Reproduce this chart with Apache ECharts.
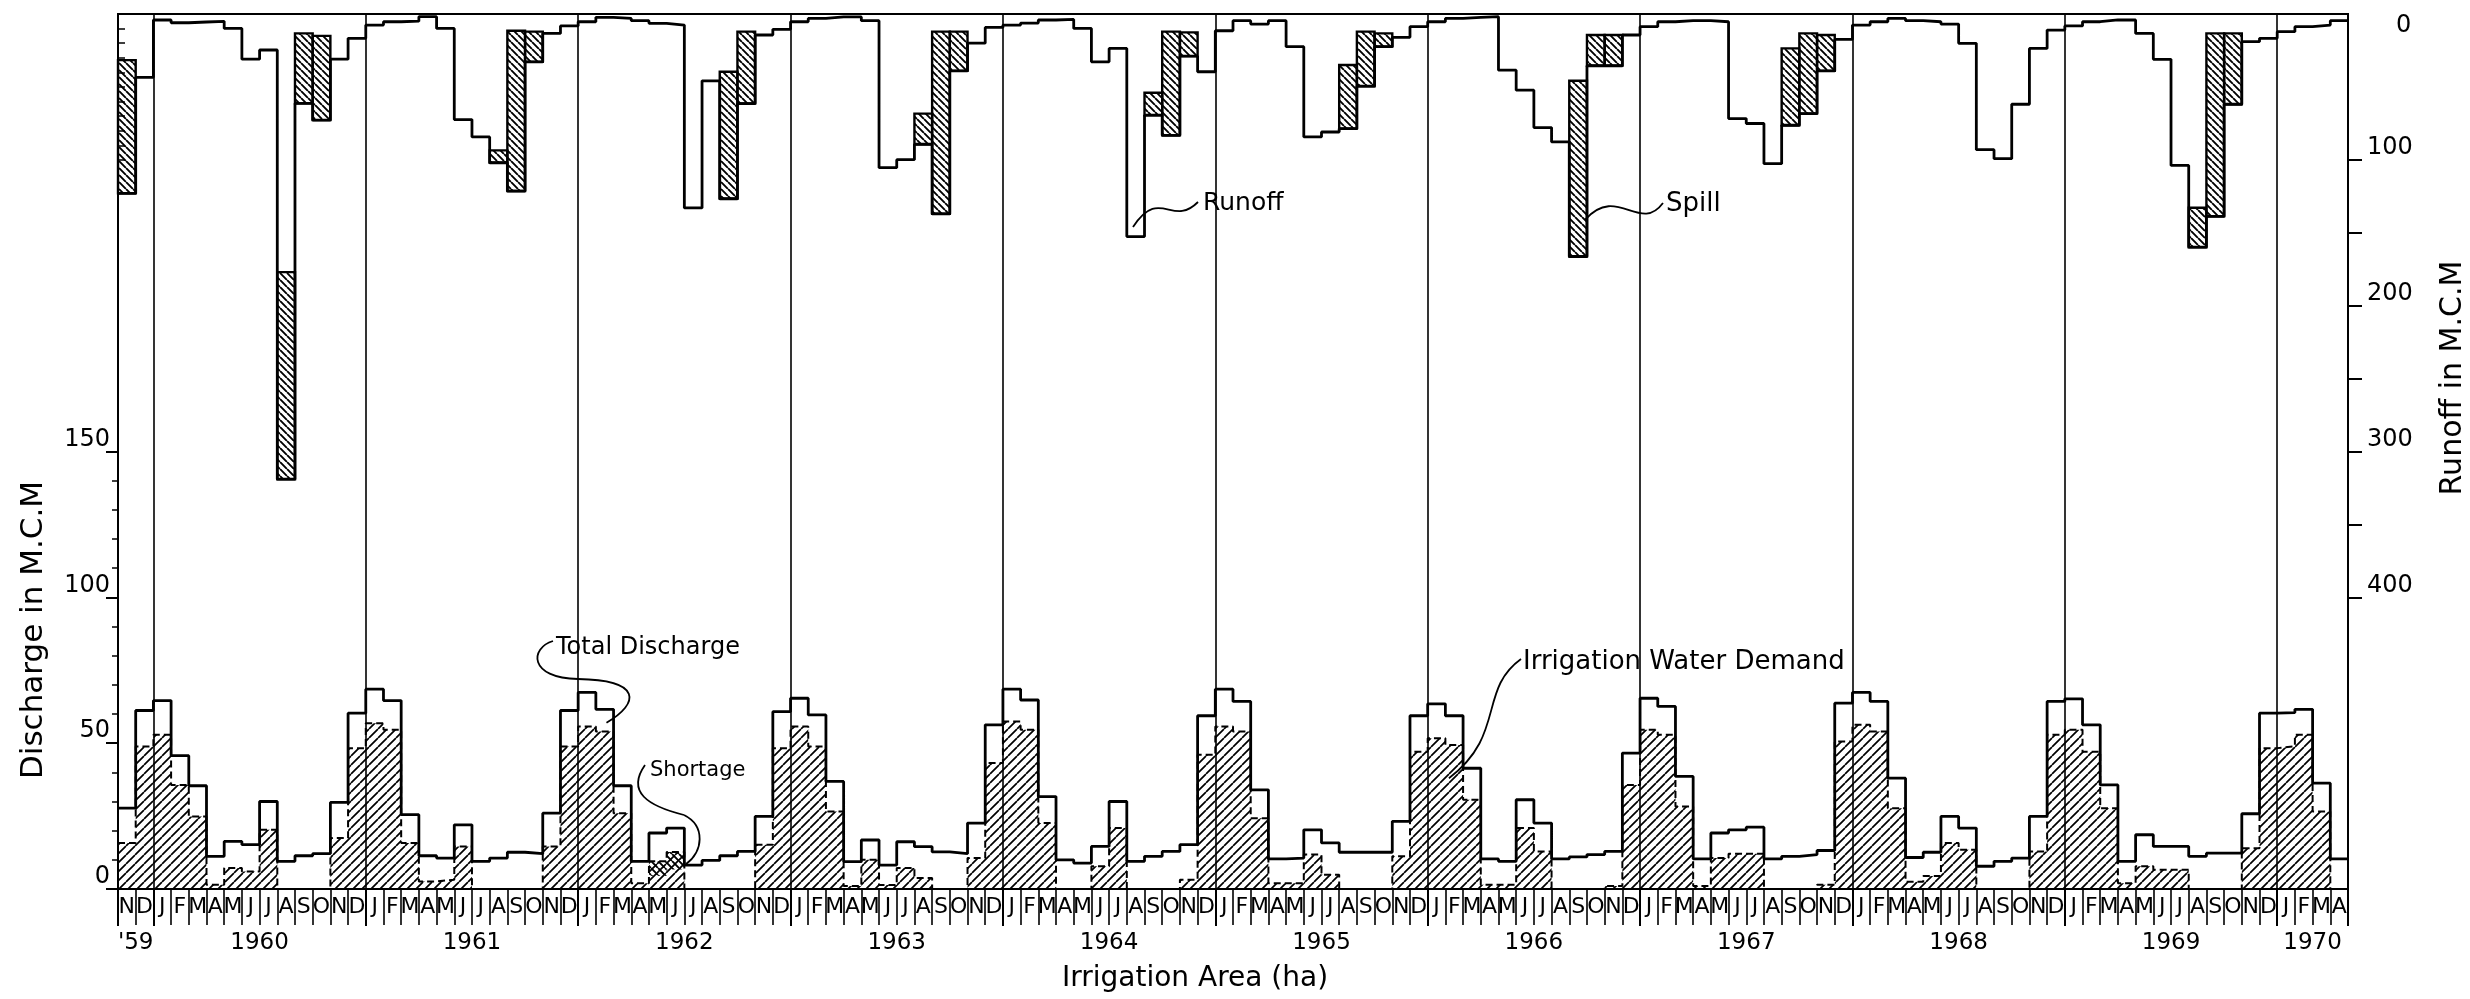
<!DOCTYPE html>
<html>
<head>
<meta charset="utf-8">
<script src="https://cdn.jsdelivr.net/npm/echarts@6/dist/echarts.min.js"></script>
<style>
html,body{margin:0;padding:0;background:#fff;}
#c{width:2470px;height:999px;}
</style>
</head>
<body>
<div id="c"></div>
<script>
// ---------------- DATA ----------------
const months = [
  'N','D',
  'J','F','M','A','M','J','J','A','S','O','N','D',
  'J','F','M','A','M','J','J','A','S','O','N','D',
  'J','F','M','A','M','J','J','A','S','O','N','D',
  'J','F','M','A','M','J','J','A','S','O','N','D',
  'J','F','M','A','M','J','J','A','S','O','N','D',
  'J','F','M','A','M','J','J','A','S','O','N','D',
  'J','F','M','A','M','J','J','A','S','O','N','D',
  'J','F','M','A','M','J','J','A','S','O','N','D',
  'J','F','M','A','M','J','J','A','S','O','N','D',
  'J','F','M','A','M','J','J','A','S','O','N','D',
  'J','F','M','A'
];
const yearLabels = ["'59","1960","1961","1962","1963","1964","1965","1966","1967","1968","1969","1970"];

// Total discharge (M.C.M)
const totalDischarge = [
  27.7, 61.2,
  64.6, 45.7, 35.4, 11.2, 16.3, 15.2, 30.0, 9.5, 11.4, 12.1, 29.7, 60.3,
  68.5, 64.6, 25.5, 11.4, 10.6, 22.0, 9.5, 10.6, 12.6, 12.1, 26.0, 61.2,
  67.4, 61.6, 35.4, 9.5, 19.2, 20.9, 8.2, 9.8, 11.4, 12.9, 24.9, 60.8,
  65.4, 59.7, 36.9, 9.4, 16.8, 8.2, 16.2, 14.5, 12.7, 12.1, 22.6, 56.3,
  68.5, 64.8, 31.7, 10.0, 8.9, 14.6, 30.0, 9.5, 11.2, 12.9, 15.2, 59.4,
  68.5, 64.3, 34.0, 10.3, 10.6, 20.3, 15.8, 12.6, 12.6, 12.6, 23.2, 59.4,
  63.5, 59.4, 41.4, 10.3, 9.5, 30.6, 22.6, 10.3, 11.0, 11.8, 12.9, 46.6,
  65.4, 62.6, 38.6, 10.3, 19.2, 20.3, 21.2, 10.3, 11.2, 11.8, 13.2, 63.7,
  67.4, 64.3, 38.0, 10.8, 12.6, 24.9, 20.9, 7.8, 9.5, 10.6, 24.9, 64.3,
  65.2, 56.3, 35.7, 9.5, 18.6, 14.6, 14.6, 11.2, 12.3, 12.3, 25.8, 60.3,
  60.5, 61.6, 36.3, 10.3
];
// Irrigation water demand (M.C.M)
const irrigationDemand = [
  15.8, 48.9,
  52.9, 35.7, 24.9, 1.5, 7.2, 6.0, 20.3, 0, 0, 0, 17.5, 48.3,
  56.8, 54.6, 15.8, 2.6, 3.2, 14.6, 0, 0, 0, 0, 14.6, 48.9,
  55.7, 54.0, 26.0, 2.0, 9.5, 12.7, 0, 0, 0, 0, 15.2, 48.3,
  55.7, 48.9, 26.6, 1.0, 10.0, 1.4, 7.2, 3.8, 0, 0, 10.6, 43.2,
  57.4, 54.6, 22.6, 0, 0, 7.8, 20.9, 0, 0, 0, 3.2, 46.0,
  55.7, 54.0, 24.3, 2.0, 2.0, 11.8, 4.9, 0, 0, 0, 11.2, 47.1,
  51.7, 49.4, 30.6, 1.5, 1.5, 20.9, 12.9, 0, 0, 0, 1.0, 35.7,
  54.6, 52.9, 28.3, 1.0, 10.6, 12.1, 12.1, 0, 0, 0, 1.5, 50.6,
  56.3, 54.0, 27.7, 2.5, 4.5, 15.8, 13.5, 0, 0, 0, 12.9, 52.9,
  54.6, 47.1, 27.7, 2.0, 7.8, 6.6, 6.6, 0, 0, 0, 14.0, 48.3,
  48.9, 52.9, 26.6, 0
];
// Shortage (M.C.M)
const shortage = [
  0, 0,
  0, 0, 0, 0, 0, 0, 0, 0, 0, 0, 0, 0,
  0, 0, 0, 0, 0, 0, 0, 0, 0, 0, 0, 0,
  0, 0, 0, 0, 5.0, 6.0, 0, 0, 0, 0, 0, 0,
  0, 0, 0, 0, 0, 0, 0, 0, 0, 0, 0, 0,
  0, 0, 0, 0, 0, 0, 0, 0, 0, 0, 0, 0,
  0, 0, 0, 0, 0, 0, 0, 0, 0, 0, 0, 0,
  0, 0, 0, 0, 0, 0, 0, 0, 0, 0, 0, 0,
  0, 0, 0, 0, 0, 0, 0, 0, 0, 0, 0, 0,
  0, 0, 0, 0, 0, 0, 0, 0, 0, 0, 0, 0,
  0, 0, 0, 0, 0, 0, 0, 0, 0, 0, 0, 0,
  0, 0, 0, 0
];
// Runoff (M.C.M)
const runoff = [
  123, 43.4,
  4.1, 6.0, 5.5, 5.0, 9.9, 31.0, 24.7, 319, 61.3, 72.8, 31.0, 16.7,
  7.6, 5.3, 4.9, 1.8, 9.9, 72.4, 84.3, 102, 121.4, 32.8, 13.3, 8.2,
  5.3, 2.3, 3.0, 4.6, 6.4, 7.6, 133, 45.8, 126.7, 61.4, 14.4, 10.5,
  5.3, 3.0, 2.0, 2.0, 4.6, 105.4, 99.9, 89.3, 137, 39.0, 20.0, 9.2,
  7.6, 6.2, 4.1, 3.7, 9.9, 32.8, 23.6, 152.6, 69.4, 83.2, 28.9, 39.6,
  11.5, 4.6, 6.9, 4.6, 22.4, 84.3, 80.9, 78.6, 49.5, 22.4, 16.0, 8.7,
  5.3, 3.0, 2.3, 1.8, 38.5, 52.2, 77.9, 87.7, 166.3, 35.5, 35.5, 14.4,
  8.7, 5.3, 4.6, 4.6, 5.3, 71.7, 75.1, 102.6, 76.3, 68.3, 39.0, 17.4,
  7.6, 5.3, 3.0, 4.6, 5.3, 6.9, 20.1, 93.0, 99.2, 61.9, 23.6, 11.0,
  8.2, 5.3, 4.1, 4.1, 13.3, 31.1, 103.8, 159.9, 138.8, 61.9, 19.0, 16.7,
  12.1, 8.7, 7.6, 4.6
];
// Spill (M.C.M) - part of the runoff spilled
const spill = [
  91.4, 0,
  0, 0, 0, 0, 0, 0, 0, 142, 48.0, 57.8, 0, 0,
  0, 0, 0, 0, 0, 0, 0, 8.5, 109.9, 20.7, 0, 0,
  0, 0, 0, 0, 0, 0, 0, 0, 87.1, 49.3, 0, 0,
  0, 0, 0, 0, 0, 0, 0, 21.0, 124.9, 26.9, 0, 0,
  0, 0, 0, 0, 0, 0, 0, 0, 15.4, 71.1, 16.3, 0,
  0, 0, 0, 0, 0, 0, 0, 43.6, 37.4, 9.1, 0, 0,
  0, 0, 0, 0, 0, 0, 0, 0, 120.5, 21.1, 21.1, 0,
  0, 0, 0, 0, 0, 0, 0, 0, 52.7, 55.0, 24.6, 0,
  0, 0, 0, 0, 0, 0, 0, 0, 0, 0, 0, 0,
  0, 0, 0, 0, 0, 0, 0, 27.0, 125.5, 48.6, 0, 0,
  0, 0, 0, 0
];
const dischargeTicks = [0,10,20,30,40,50,60,70,80,90,100,110,120,130,140,150];
const dischargeLabels = [0,50,100,150];
const runoffMinorTicks = [0,10,20,30,40,50,60,70,80,90,100];
const runoffMajorTicks = [100,150,200,250,300,350,400];
const runoffLabels = [100,200,300,400];

// ---------------- BUILD ----------------
const N = months.length;
const yearBounds = [0];
for (let i = 1; i < N; i++) if (months[i] === 'J' && months[i-1] === 'D') yearBounds.push(i);
yearBounds.push(N);
const yearMids = yearLabels.map((_, k) => (yearBounds[k] + yearBounds[k+1]) / 2);
const monthTicks = Array.from({length: N + 1}, (_, i) => i);
const monthMids = months.map((_, i) => i + 0.5);

function stepData(arr) {
  const d = arr.map((v, i) => [i, v]);
  d.push([arr.length, arr[arr.length - 1]]);
  return d;
}
function hatch(size, dir, lw) {
  const c = document.createElement('canvas');
  c.width = size; c.height = size;
  const g = c.getContext('2d');
  g.strokeStyle = '#000'; g.lineWidth = lw;
  g.beginPath();
  for (const o of [-size, 0, size]) {
    if (dir === '/') { g.moveTo(o, size); g.lineTo(o + size, 0); }
    else { g.moveTo(o, 0); g.lineTo(o + size, size); }
  }
  g.stroke();
  return c;
}
const demandPattern = { image: hatch(9, '/', 1.7), repeat: 'repeat' };
const spillPattern = { image: hatch(7, '\\', 1.9), repeat: 'repeat' };

const FONT = '"DejaVu Sans", sans-serif';
const labelBase = { color: '#000', fontFamily: FONT };

const chart = echarts.init(document.getElementById('c'), null, { renderer: 'canvas' });

function rangeRect(params, api) {
  const x = api.value(0);
  const a = api.coord([x, api.value(1)]);
  const b = api.coord([x + 1, api.value(2)]);
  return { x: a[0], y: Math.min(a[1], b[1]), width: b[0] - a[0], height: Math.abs(b[1] - a[1]) };
}

const spillData = runoff.map((r, i) => [i, r - spill[i], r]).filter((d, i) => spill[i] > 0);
const shortData = irrigationDemand.map((d, i) => [i, d - shortage[i], d]).filter((d, i) => shortage[i] > 0);

const option = {
  animation: false,
  backgroundColor: '#fff',
  grid: { left: 118, right: 122, top: 14, bottom: 110, show: true, borderColor: '#000', borderWidth: 2 },
  xAxis: [
    { type: 'value', min: 0, max: N, position: 'bottom',
      axisLine: { show: true, lineStyle: { color: '#000', width: 2 } },
      axisTick: { show: true, customValues: monthTicks, length: 36, lineStyle: { color: '#000', width: 1.6 } },
      axisLabel: Object.assign({ customValues: monthMids, formatter: v => months[Math.floor(v)],
        fontSize: 22, margin: 18, verticalAlign: 'middle' }, labelBase),
      splitLine: { show: false } },
    { type: 'value', min: 0, max: N, position: 'bottom', offset: 36,
      axisLine: { show: true, lineStyle: { color: '#000', width: 2 } },
      axisTick: { show: true, customValues: yearBounds, length: 37, lineStyle: { color: '#000', width: 2 } },
      axisLabel: Object.assign({ customValues: yearMids,
        formatter: v => { let k = 0, best = 1e9; yearMids.forEach((m, j) => { if (Math.abs(m - v) < best) { best = Math.abs(m - v); k = j; } }); return yearLabels[k]; },
        fontSize: 23, margin: 18, verticalAlign: 'middle' }, labelBase),
      splitLine: { show: false } },
    { type: 'value', min: 0, max: N, position: 'bottom', offset: 73,
      axisLine: { show: true, lineStyle: { color: '#000', width: 2 } },
      axisTick: { show: false }, axisLabel: { show: false }, splitLine: { show: false } }
  ],
  yAxis: [
    { type: 'value', min: 0, max: 300, position: 'left',
      axisLine: { show: true, lineStyle: { color: '#000', width: 2 } },
      axisTick: { show: true, customValues: dischargeTicks, length: 6, lineStyle: { color: '#000', width: 1.5 } },
      axisLabel: { show: false }, splitLine: { show: false } },
    { type: 'value', min: 0, max: 300, position: 'left',
      axisLine: { show: false },
      axisTick: { show: true, customValues: dischargeLabels, length: 12, lineStyle: { color: '#000', width: 2 } },
      axisLabel: Object.assign({ customValues: dischargeLabels, fontSize: 24, margin: 8, verticalAlign: 'bottom' }, labelBase),
      splitLine: { show: false } },
    { type: 'value', min: 0, max: 600, inverse: true, position: 'right',
      axisLine: { show: true, lineStyle: { color: '#000', width: 2 } },
      axisTick: { show: true, customValues: runoffMinorTicks, length: 7, lineStyle: { color: '#000', width: 1.5 } },
      axisLabel: { show: false }, splitLine: { show: false } },
    { type: 'value', min: 0, max: 600, inverse: true, position: 'right',
      axisLine: { show: false },
      axisTick: { show: true, customValues: runoffMajorTicks, length: 14, lineStyle: { color: '#000', width: 2 } },
      axisLabel: Object.assign({ customValues: runoffLabels, fontSize: 24, margin: 19, verticalAlign: 'bottom' }, labelBase),
      splitLine: { show: false } },
    { type: 'value', min: 0, max: 600, inverse: true, position: 'right',
      axisLine: { show: false }, axisTick: { show: false },
      axisLabel: Object.assign({ customValues: [0], fontSize: 24, margin: 48, verticalAlign: 'top' }, labelBase),
      splitLine: { show: false } }
  ],
  series: [
    { name: 'Irrigation Water Demand', type: 'line', step: 'end', xAxisIndex: 0, yAxisIndex: 0,
      data: stepData(irrigationDemand), showSymbol: false, symbol: 'none', z: 2,
      lineStyle: { color: '#000', width: 2, type: [7, 4] },
      areaStyle: { color: demandPattern, opacity: 1 } },
    { name: 'Shortage', type: 'custom', xAxisIndex: 0, yAxisIndex: 0, z: 3,
      data: shortData, encode: { x: 0, y: [1, 2] },
      renderItem: (p, api) => ({ type: 'rect', shape: rangeRect(p, api), style: { fill: spillPattern, stroke: null } }) },
    { name: 'Total Discharge', type: 'line', step: 'end', xAxisIndex: 0, yAxisIndex: 0,
      data: stepData(totalDischarge), showSymbol: false, symbol: 'none', z: 4,
      lineStyle: { color: '#000', width: 2.8 },
      markLine: { silent: true, symbol: ['none', 'none'], label: { show: false },
        lineStyle: { color: '#000', width: 1.6, type: 'solid' },
        data: yearBounds.slice(1, -1).map(v => ({ xAxis: v })) } },
    { name: 'Spill', type: 'custom', xAxisIndex: 0, yAxisIndex: 2, z: 3,
      data: spillData, encode: { x: 0, y: [1, 2] },
      renderItem: (p, api) => ({ type: 'rect', shape: rangeRect(p, api), style: { fill: spillPattern, stroke: '#000', lineWidth: 2.4 } }) },
    { name: 'Runoff', type: 'line', step: 'end', xAxisIndex: 0, yAxisIndex: 2,
      data: stepData(runoff), showSymbol: false, symbol: 'none', z: 4,
      lineStyle: { color: '#000', width: 2.8 } }
  ]
};
chart.setOption(option);

// ---------------- ANNOTATIONS ----------------
const px = (si, x, y) => chart.convertToPixel({ seriesIndex: si }, [x, y]);
const textEl = (t, x, y, size, rot, align) => ({
  type: 'text', x: x, y: y, rotation: rot || 0, silent: true, z: 10,
  style: { text: t, font: size + 'px ' + FONT, fill: '#000', textAlign: align || 'left', textVerticalAlign: 'middle', verticalAlign: 'middle' }
});
const curve = (x1, y1, c1x, c1y, c2x, c2y, x2, y2) => ({
  type: 'bezierCurve', silent: true, z: 10,
  shape: { x1: x1, y1: y1, cpx1: c1x, cpy1: c1y, cpx2: c2x, cpy2: c2y, x2: x2, y2: y2 },
  style: { stroke: '#000', lineWidth: 1.8, fill: null }
});
const aRun = px(4, 57.35, 146);
const aSpill = px(4, 82.9, 141);
const aTot = px(2, 27.6, 57);
const aShort = px(2, 32.1, 8.6);
const aDem = px(2, 75.2, 38);

const graphics = [
  textEl('Discharge in M.C.M', 34, 630, 31, Math.PI / 2, 'center'),
  textEl('Runoff in M.C.M', 2453, 378, 30, Math.PI / 2, 'center'),
  textEl('Irrigation Area (ha)', 1195, 979, 28, 0, 'center'),
  textEl('Runoff', 1203, 203, 25),
  curve(1198, 202, 1172, 228, 1160, 186, aRun[0], aRun[1]),
  textEl('Spill', 1666, 204, 26),
  curve(1663, 203, 1640, 234, 1617, 184, aSpill[0], aSpill[1]),
  textEl('Total Discharge', 556, 648, 24),
  curve(553, 641, 530, 648, 528, 678, 578, 679),
  curve(578, 679, 642, 680, 640, 703, aTot[0], aTot[1]),
  textEl('Shortage', 650, 771, 21),
  curve(645, 765, 626, 792, 648, 806, 684, 815),
  curve(684, 815, 706, 826, 703, 852, aShort[0], aShort[1]),
  textEl('Irrigation Water Demand', 1523, 662, 26),
  curve(1521, 659, 1478, 690, 1506, 735, aDem[0], aDem[1])
];
chart.setOption({ graphic: graphics });
</script>
</body>
</html>
